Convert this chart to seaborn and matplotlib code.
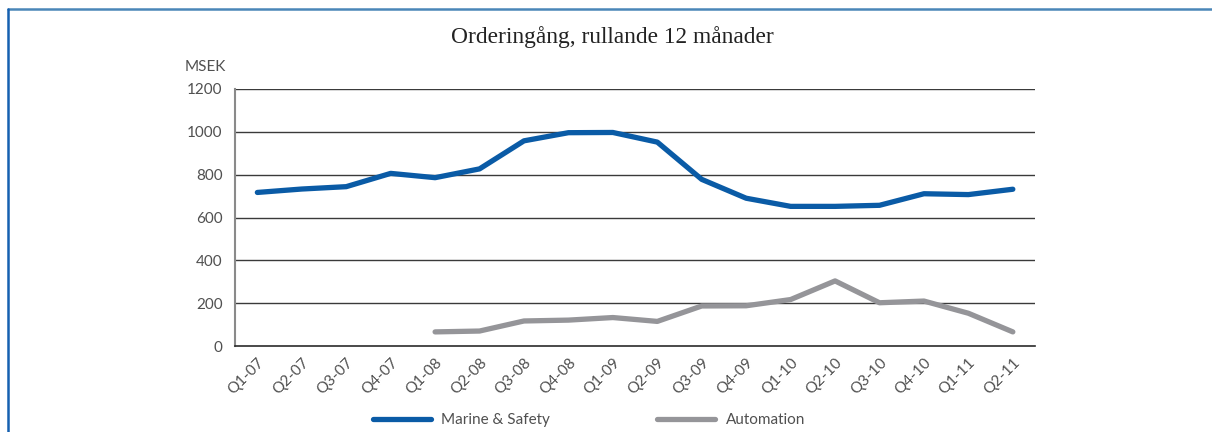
import numpy as np
import pandas as pd
import matplotlib
matplotlib.use("Agg")
import matplotlib.pyplot as plt
from matplotlib.lines import Line2D
import seaborn as sns

# rolling 12 month order intake, MSEK
quarters = ["Q1-07", "Q2-07", "Q3-07", "Q4-07", "Q1-08", "Q2-08", "Q3-08", "Q4-08", "Q1-09",
            "Q2-09", "Q3-09", "Q4-09", "Q1-10", "Q2-10", "Q3-10", "Q4-10", "Q1-11", "Q2-11"]
marine = [717, 733, 744, 806, 786, 827, 958, 996, 997, 952, 778, 690, 652, 652, 657, 711, 707, 732]
automation = [np.nan, np.nan, np.nan, np.nan, 66, 70, 117, 121, 133, 115, 187, 188, 217, 304,
              202, 210, 153, 66]
yticks = [0, 200, 400, 600, 800, 1000, 1200]

blue = "#0a5ba6"
grey = "#959599"
txt = "#505050"

df = pd.DataFrame({"Quarter": quarters, "Marine & Safety": marine, "Automation": automation})

sns.set_style("white")
plt.rcParams["font.family"] = ["Lato", "DejaVu Sans"]

fig = plt.figure(figsize=(12.12, 4.32), dpi=100)
ax = fig.add_axes([0.194, 0.199, 0.660, 0.595])

sns.lineplot(data=df, x="Quarter", y="Marine & Safety", color=blue, lw=3.8, sort=False,
             solid_capstyle="round", ax=ax)
sns.lineplot(data=df.dropna(), x="Quarter", y="Automation", color=grey, lw=3.8, sort=False,
             solid_capstyle="round", ax=ax)

ax.set_xlim(-0.5, len(quarters) - 0.5)
ax.set_ylim(0, 1200)
ax.set_yticks(yticks)
ax.set_yticklabels([str(v) for v in yticks], fontsize=11, color=txt)
ax.set_xticks(range(len(quarters)))
ax.set_xticklabels(quarters, rotation=45, ha="right", rotation_mode="anchor", fontsize=11, color=txt)
ax.tick_params(axis="both", length=0)
ax.tick_params(axis="y", pad=9)
ax.tick_params(axis="x", pad=7)
ax.set_xlabel("")
ax.set_ylabel("")
for y in yticks[1:]:
    ax.axhline(y, color="#3a3a3a", lw=1.0, zorder=0)
for s in ["top", "right"]:
    ax.spines[s].set_visible(False)
ax.spines["left"].set_color("#8a8a8a")
ax.spines["left"].set_linewidth(1.5)
ax.spines["bottom"].set_color("#2a2a2a")
ax.spines["bottom"].set_linewidth(1.2)

ax.text(-0.012, 1.06, "MSEK", transform=ax.transAxes, ha="right", va="bottom", fontsize=11, color=txt)
fig.text(0.505, 0.915, "Orderingång, rullande 12 månader", ha="center", va="center",
         fontsize=16.8, color="#222222", family=["Liberation Serif", "DejaVu Serif"])

handles = [Line2D([], [], color=blue, lw=3.8, solid_capstyle="round"),
           Line2D([], [], color=grey, lw=3.8, solid_capstyle="round")]
fig.legend(handles, ["Marine & Safety", "Automation"], loc="center", bbox_to_anchor=(0.486, 0.027),
           ncol=2, frameon=False, fontsize=11, handlelength=3.8, handletextpad=0.7,
           columnspacing=7.0, labelcolor=txt)

# frame lines round the panel
fig.add_artist(Line2D([0.0068, 1.0], [0.979, 0.979], transform=fig.transFigure, color="#4a86b8", lw=1.8))
fig.add_artist(Line2D([0.0068, 0.0068], [0.0, 0.979], transform=fig.transFigure, color="#1560b0", lw=1.8))

fig.savefig("out.png", dpi=100)
